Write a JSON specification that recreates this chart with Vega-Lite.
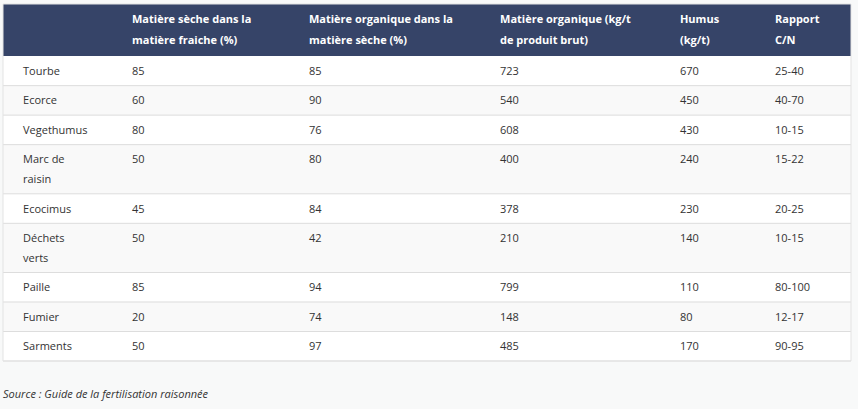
{
  "$schema": "https://vega.github.io/schema/vega-lite/v6.json",
  "width": 848,
  "height": 357,
  "autosize": {"type": "none"},
  "padding": {"left": 3, "top": 4, "right": 7, "bottom": 48},
  "background": "#f8f9f9",
  "config": {
    "view": {"stroke": null},
    "axis": {"disable": true},
    "text": {"font": "Open Sans", "fontSize": 11, "color": "#333333", "align": "left", "baseline": "middle"}
  },
  "datasets": {
    "rows": [
      {"name": "Tourbe", "ms": "85", "mo": "85", "mob": "723", "humus": "670", "cn": "25-40"},
      {"name": "Ecorce", "ms": "60", "mo": "90", "mob": "540", "humus": "450", "cn": "40-70"},
      {"name": "Vegethumus", "ms": "80", "mo": "76", "mob": "608", "humus": "430", "cn": "10-15"},
      {"name": ["Marc de", "raisin"], "ms": "50", "mo": "80", "mob": "400", "humus": "240", "cn": "15-22"},
      {"name": "Ecocimus", "ms": "45", "mo": "84", "mob": "378", "humus": "230", "cn": "20-25"},
      {"name": ["Déchets", "verts"], "ms": "50", "mo": "42", "mob": "210", "humus": "140", "cn": "10-15"},
      {"name": "Paille", "ms": "85", "mo": "94", "mob": "799", "humus": "110", "cn": "80-100"},
      {"name": "Fumier", "ms": "20", "mo": "74", "mob": "148", "humus": "80", "cn": "12-17"},
      {"name": "Sarments", "ms": "50", "mo": "97", "mob": "485", "humus": "170", "cn": "90-95"}
    ],
    "header": [
      {"ms": ["Matière sèche dans la", "matière fraiche (%)"], "mo": ["Matière organique dans la", "matière sèche (%)"], "mob": ["Matière organique (kg/t", "de produit brut)"], "humus": ["Humus", "(kg/t)"], "cn": ["Rapport", "C/N"]}
    ],
    "note": [{"source": "Source : Guide de la fertilisation raisonnée"}]
  },
  "layer": [
    {
      "data": {"name": "rows"},
      "transform": [
        {"calculate": "isArray(datum.name) ? 5 : 3", "as": "u"},
        {"window": [{"op": "sum", "field": "u", "as": "bottom"}, {"op": "row_number", "as": "idx"}]},
        {"calculate": "datum.bottom - datum.u", "as": "top"},
        {"calculate": "datum.top + 1.5", "as": "line1"}
      ],
      "layer": [
        {
          "mark": {"type": "rect"},
          "encoding": {
            "y": {"field": "top", "type": "quantitative", "scale": {"domain": [-5.3, 31], "reverse": true, "nice": false, "zero": false}},
            "y2": {"field": "bottom"},
            "fill": {"condition": {"test": "datum.idx % 2 == 0", "value": "#f9f9f9"}, "value": "#ffffff"}
          }
        },
        {
          "mark": {"type": "rule", "stroke": "#dddddd", "strokeWidth": 1},
          "encoding": {
            "y": {"field": "bottom", "type": "quantitative", "scale": {"domain": [-5.3, 31], "reverse": true, "nice": false, "zero": false}}
          }
        },
        {
          "mark": {"type": "text", "lineHeight": 19.5, "dy": 1},
          "encoding": {
            "x": {"datum": 2.36, "type": "quantitative", "scale": {"domain": [0, 100], "nice": false, "zero": false}},
            "y": {"field": "line1", "type": "quantitative", "scale": {"domain": [-5.3, 31], "reverse": true, "nice": false, "zero": false}},
            "text": {"field": "name", "type": "nominal"}
          }
        },
        {
          "mark": {"type": "text", "dy": 1},
          "encoding": {
            "x": {"datum": 15.21, "type": "quantitative", "scale": {"domain": [0, 100], "nice": false, "zero": false}},
            "y": {"field": "line1", "type": "quantitative", "scale": {"domain": [-5.3, 31], "reverse": true, "nice": false, "zero": false}},
            "text": {"field": "ms", "type": "nominal"}
          }
        },
        {
          "mark": {"type": "text", "dy": 1},
          "encoding": {
            "x": {"datum": 36.08, "type": "quantitative", "scale": {"domain": [0, 100], "nice": false, "zero": false}},
            "y": {"field": "line1", "type": "quantitative", "scale": {"domain": [-5.3, 31], "reverse": true, "nice": false, "zero": false}},
            "text": {"field": "mo", "type": "nominal"}
          }
        },
        {
          "mark": {"type": "text", "dy": 1},
          "encoding": {
            "x": {"datum": 58.61, "type": "quantitative", "scale": {"domain": [0, 100], "nice": false, "zero": false}},
            "y": {"field": "line1", "type": "quantitative", "scale": {"domain": [-5.3, 31], "reverse": true, "nice": false, "zero": false}},
            "text": {"field": "mob", "type": "nominal"}
          }
        },
        {
          "mark": {"type": "text", "dy": 1},
          "encoding": {
            "x": {"datum": 79.83, "type": "quantitative", "scale": {"domain": [0, 100], "nice": false, "zero": false}},
            "y": {"field": "line1", "type": "quantitative", "scale": {"domain": [-5.3, 31], "reverse": true, "nice": false, "zero": false}},
            "text": {"field": "humus", "type": "nominal"}
          }
        },
        {
          "mark": {"type": "text", "dy": 1},
          "encoding": {
            "x": {"datum": 91.04, "type": "quantitative", "scale": {"domain": [0, 100], "nice": false, "zero": false}},
            "y": {"field": "line1", "type": "quantitative", "scale": {"domain": [-5.3, 31], "reverse": true, "nice": false, "zero": false}},
            "text": {"field": "cn", "type": "nominal"}
          }
        }
      ]
    },
    {
      "data": {"name": "header"},
      "layer": [
        {
          "mark": {"type": "rect", "fill": "#364468"},
          "encoding": {
            "y": {"datum": -5.3, "type": "quantitative", "scale": {"domain": [-5.3, 31], "reverse": true, "nice": false, "zero": false}},
            "y2": {"datum": 0}
          }
        },
        {
          "mark": {"type": "text", "color": "#ffffff", "fontWeight": "bold", "lineHeight": 21},
          "encoding": {
            "x": {"datum": 15.21, "type": "quantitative", "scale": {"domain": [0, 100], "nice": false, "zero": false}},
            "y": {"datum": -3.67, "type": "quantitative", "scale": {"domain": [-5.3, 31], "reverse": true, "nice": false, "zero": false}},
            "text": {"field": "ms", "type": "nominal"}
          }
        },
        {
          "mark": {"type": "text", "color": "#ffffff", "fontWeight": "bold", "lineHeight": 21},
          "encoding": {
            "x": {"datum": 36.08, "type": "quantitative", "scale": {"domain": [0, 100], "nice": false, "zero": false}},
            "y": {"datum": -3.67, "type": "quantitative", "scale": {"domain": [-5.3, 31], "reverse": true, "nice": false, "zero": false}},
            "text": {"field": "mo", "type": "nominal"}
          }
        },
        {
          "mark": {"type": "text", "color": "#ffffff", "fontWeight": "bold", "lineHeight": 21},
          "encoding": {
            "x": {"datum": 58.61, "type": "quantitative", "scale": {"domain": [0, 100], "nice": false, "zero": false}},
            "y": {"datum": -3.67, "type": "quantitative", "scale": {"domain": [-5.3, 31], "reverse": true, "nice": false, "zero": false}},
            "text": {"field": "mob", "type": "nominal"}
          }
        },
        {
          "mark": {"type": "text", "color": "#ffffff", "fontWeight": "bold", "lineHeight": 21},
          "encoding": {
            "x": {"datum": 79.83, "type": "quantitative", "scale": {"domain": [0, 100], "nice": false, "zero": false}},
            "y": {"datum": -3.67, "type": "quantitative", "scale": {"domain": [-5.3, 31], "reverse": true, "nice": false, "zero": false}},
            "text": {"field": "humus", "type": "nominal"}
          }
        },
        {
          "mark": {"type": "text", "color": "#ffffff", "fontWeight": "bold", "lineHeight": 21},
          "encoding": {
            "x": {"datum": 91.04, "type": "quantitative", "scale": {"domain": [0, 100], "nice": false, "zero": false}},
            "y": {"datum": -3.67, "type": "quantitative", "scale": {"domain": [-5.3, 31], "reverse": true, "nice": false, "zero": false}},
            "text": {"field": "cn", "type": "nominal"}
          }
        },
        {
          "mark": {"type": "rect", "fill": null, "stroke": "#e3e3e3", "strokeWidth": 1},
          "encoding": {
            "y": {"datum": -5.3, "type": "quantitative", "scale": {"domain": [-5.3, 31], "reverse": true, "nice": false, "zero": false}},
            "y2": {"datum": 31}
          }
        }
      ]
    },
    {
      "data": {"name": "note"},
      "mark": {"type": "text", "fontStyle": "italic", "fontSize": 11},
      "encoding": {
        "x": {"datum": 0, "type": "quantitative", "scale": {"domain": [0, 100], "nice": false, "zero": false}},
        "y": {"datum": 34.46, "type": "quantitative", "scale": {"domain": [-5.3, 31], "reverse": true, "nice": false, "zero": false}},
        "text": {"field": "source", "type": "nominal"}
      }
    }
  ]
}
